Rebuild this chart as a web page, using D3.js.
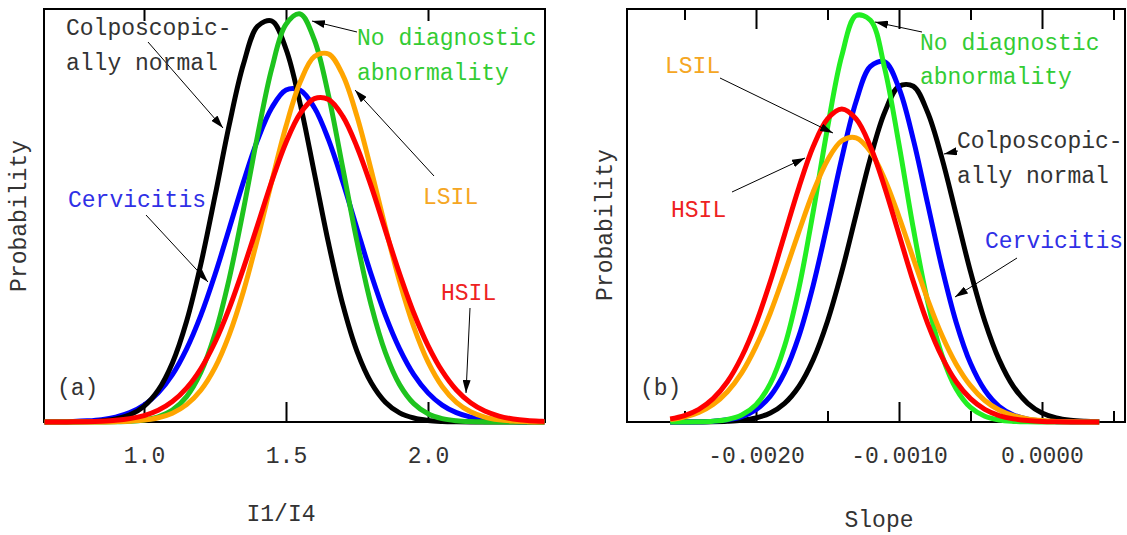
<!DOCTYPE html>
<html>
<head>
<meta charset="utf-8">
<script src="https://cdn.jsdelivr.net/npm/d3@7"></script>
<style>
  body { margin: 0; background: #fff; }
  svg text { font-family: "Liberation Mono", "Courier New", monospace; }
</style>
</head>
<body>
<script>
// ---- panel (a): I1/I4 ----
var ratioX = [0.65,0.70,0.75,0.80,0.85,0.90,0.95,1.00,1.05,1.10,1.15,1.20,1.25,1.30,1.35,1.40,1.45,1.50,1.55,1.60,
              1.65,1.70,1.75,1.80,1.85,1.90,1.95,2.00,2.05,2.10,2.15,2.20,2.25,2.30,2.35,2.40,2.41];
var ratioNormal = [0,0.0001,0.0003,0.001,0.0027,0.0072,0.0172,0.038,0.077,0.143,0.244,0.382,0.547,0.719,0.866,0.958,0.971,0.903,0.770,0.602,
                   0.432,0.284,0.171,0.095,0.048,0.022,0.0096,0.0037,0.0013,0.0004,0.0001,0,0,0,0,0,0];
var ratioCervicitis = [0.0002,0.0005,0.0012,0.0028,0.0058,0.0118,0.0226,0.041,0.0705,0.1146,0.177,0.258,0.357,0.468,0.581,0.683,0.761,0.804,0.803,0.761,
                       0.683,0.581,0.468,0.357,0.258,0.177,0.1146,0.0705,0.041,0.0226,0.0118,0.0058,0.0028,0.0012,0.0005,0.0002,0.0002];
var ratioNoAbn = [0,0,0,0,0.0002,0.0005,0.0017,0.0048,0.0123,0.0287,0.0614,0.120,0.2135,0.347,0.514,0.694,0.856,0.963,0.988,0.925,
                  0.790,0.615,0.437,0.283,0.168,0.0905,0.0445,0.020,0.0082,0.0031,0.0010,0.0003,0.0001,0,0,0,0];
var ratioLSIL = [0,0,0,0.0001,0.0003,0.0008,0.0019,0.0046,0.0103,0.0214,0.042,0.0769,0.1316,0.211,0.316,0.444,0.583,0.716,0.823,0.885,
                 0.891,0.840,0.740,0.610,0.471,0.340,0.230,0.1454,0.086,0.0476,0.0247,0.012,0.0054,0.0023,0.0009,0.0003,0.0003];
var ratioHSIL = [0.0001,0.0001,0.0004,0.0008,0.0019,0.004,0.0081,0.0155,0.0285,0.0496,0.0821,0.129,0.193,0.275,0.372,0.477,0.583,0.677,0.747,0.783,
                 0.781,0.740,0.666,0.571,0.464,0.359,0.264,0.185,0.123,0.0775,0.0465,0.0265,0.0144,0.0074,0.0036,0.0017,0.0014];
var ratioTicks = [1.0, 1.5, 2.0];

// ---- panel (b): Slope ----
var slopeX = [-0.0026,-0.0025,-0.0024,-0.0023,-0.0022,-0.0021,-0.0020,-0.0019,-0.0018,-0.0017,-0.0016,-0.0015,-0.0014,-0.0013,-0.0012,-0.0011,
              -0.0010,-0.0009,-0.0008,-0.0007,-0.0006,-0.0005,-0.0004,-0.0003,-0.0002,-0.0001,0,0.0001,0.0002,0.0003,0.0004];
var slopeNormal = [0,0.0001,0.0002,0.0005,0.0016,0.0041,0.0098,0.0219,0.0452,0.086,0.151,0.244,0.364,0.502,0.639,0.750,
                   0.813,0.813,0.750,0.639,0.502,0.364,0.244,0.151,0.086,0.0452,0.0219,0.0098,0.0041,0.0016,0.0005];
var slopeCervicitis = [0.0001,0.0002,0.0006,0.0019,0.0053,0.0132,0.030,0.0627,0.1194,0.208,0.331,0.481,0.639,0.776,0.861,0.872,
                       0.808,0.684,0.529,0.374,0.241,0.142,0.0768,0.0378,0.017,0.007,0.0026,0.0009,0.0003,0.0001,0];
var slopeNoAbn = [0,0.0001,0.0005,0.0019,0.006,0.0168,0.0418,0.0928,0.184,0.324,0.509,0.712,0.887,0.984,0.973,0.856,
                  0.672,0.469,0.292,0.162,0.080,0.0352,0.0138,0.0048,0.0015,0.0004,0.0001,0,0,0,0];
var slopeLSIL = [0.0058,0.0119,0.0232,0.0425,0.0734,0.119,0.183,0.264,0.360,0.461,0.557,0.634,0.681,0.688,0.655,0.588,
                 0.497,0.396,0.297,0.210,0.140,0.088,0.0521,0.029,0.0153,0.0075,0.0035,0.0015,0.0006,0.0003,0.0001];
var slopeHSIL = [0.0075,0.0157,0.0307,0.0565,0.0975,0.158,0.239,0.340,0.454,0.568,0.667,0.734,0.758,0.734,0.667,0.568,
                 0.454,0.340,0.239,0.158,0.0975,0.0565,0.0307,0.0157,0.0075,0.0034,0.0014,0.0006,0.0002,0.0001,0];
var slopeTicks = [-0.0020, -0.0010, 0.0000];
var slopeMinorTicks = [-0.0025, -0.0015, -0.0005, 0.0005];

var w = 1127, h = 535;
var top0 = 9, bottom0 = 422;

var svg = d3.select("body").append("svg")
            .attr("width", w)
            .attr("height", h);

var yScale = d3.scaleLinear().domain([0, 1]).range([bottom0, top0]);

// hyphen minus, like the original
var locale = d3.formatLocale({decimal: ".", thousands: ",", grouping: [3], currency: ["", ""], minus: "-"});

var defs = svg.append("defs");
defs.append("marker")
    .attr("id", "arrow")
    .attr("markerUnits", "userSpaceOnUse")
    .attr("markerWidth", 13)
    .attr("markerHeight", 8)
    .attr("refX", 13)
    .attr("refY", 4)
    .attr("orient", "auto")
  .append("path")
    .attr("d", "M0,0 L13,4 L0,8 Z")
    .attr("fill", "#000");

function drawPanel(p) {
    var g = svg.append("g");

    defs.append("clipPath").attr("id", "clip-" + p.id)
      .append("rect")
        .attr("x", p.left).attr("y", 0)
        .attr("width", p.right - p.left).attr("height", bottom0 + 8);

    //frame
    g.append("rect")
     .attr("x", p.left).attr("y", top0)
     .attr("width", p.right - p.left).attr("height", bottom0 - top0)
     .attr("fill", "none").attr("stroke", "#000").attr("stroke-width", 2);

    // bottom axis, ticks pointing in
    var xAxis = d3.axisBottom(p.x)
                  .tickValues(p.ticks)
                  .tickFormat(locale.format(p.fmt))
                  .tickSizeInner(-20).tickSizeOuter(0).tickPadding(25);
    var ax = g.append("g").attr("transform", `translate(0, ${bottom0})`).call(xAxis);
    ax.select(".domain").remove();

    var topAxis = d3.axisTop(p.x).tickValues(p.ticks).tickFormat("")
                    .tickSizeInner(-p.topTick).tickSizeOuter(0);
    var at = g.append("g").attr("transform", `translate(0, ${top0})`).call(topAxis);
    at.select(".domain").remove();

    if (p.minor) {
        [[bottom0, d3.axisBottom], [top0, d3.axisTop]].forEach(function(a) {
            var m = g.append("g").attr("transform", `translate(0, ${a[0]})`)
                     .call(a[1](p.x).tickValues(p.minor).tickFormat("").tickSizeInner(-11).tickSizeOuter(0));
            m.select(".domain").remove();
        });
    }
    g.selectAll(".tick line").attr("stroke", "#000").attr("stroke-width", 2);
    g.selectAll(".tick text").attr("font-size", "23px").attr("fill", "#333")
     .attr("font-family", "Liberation Mono, Courier New, monospace");

    // curves
    var line = d3.line()
                 .x(function(d) { return p.x(d[0]); })
                 .y(function(d) { return yScale(d[1]); })
                 .curve(d3.curveCatmullRom);
    var cg = g.append("g").attr("clip-path", `url(#clip-${p.id})`);
    p.series.forEach(function(s) {
        cg.append("path")
          .datum(p.xs.map(function(x, i) { return [x, s.values[i]]; }))
          .attr("d", line)
          .attr("fill", "none")
          .attr("stroke", s.color)
          .attr("stroke-width", 5)
          .attr("stroke-linejoin", "round");
    });

    // annotations
    p.notes.forEach(function(n) {
        g.append("line")
         .attr("x1", n.from[0]).attr("y1", n.from[1])
         .attr("x2", n.to[0]).attr("y2", n.to[1])
         .attr("stroke", "#000").attr("stroke-width", 1)
         .attr("marker-end", "url(#arrow)");
        var t = g.append("text")
                 .attr("x", n.x).attr("y", n.y)
                 .attr("font-size", "23px")
                 .attr("fill", n.color);
        n.text.forEach(function(s, i) {
            t.append("tspan").attr("x", n.x).attr("y", n.y + i * n.gap).text(s);
        });
    });

    g.append("text").attr("x", p.left + 13).attr("y", 395)
     .attr("font-size", "23px").attr("fill", "#333").text(p.tag);

    g.append("text")
     .attr("transform", `translate(${p.yLab[0]}, ${p.yLab[1]}) rotate(-90)`)
     .attr("text-anchor", "middle")
     .attr("font-size", "23px").attr("fill", "#333")
     .text("Probability");

    g.append("text")
     .attr("x", p.xLab[0]).attr("y", p.xLab[1])
     .attr("text-anchor", "middle")
     .attr("font-size", "23px").attr("fill", "#333")
     .text(p.xTitle);
}

drawPanel({
    id: "a", left: 44, right: 545, tag: "(a)", xTitle: "I1/I4",
    x: d3.scaleLinear().domain([1, 2]).range([144, 428]),
    ticks: ratioTicks, fmt: ".1f", topTick: 12,
    xs: ratioX,
    yLab: [26, 216], xLab: [281, 521],
    series: [
        {values: ratioCervicitis, color: "#0000ff"},
        {values: ratioNormal, color: "#000000"},
        {values: ratioNoAbn, color: "#1ec31e"},
        {values: ratioLSIL, color: "#ffa500"},
        {values: ratioHSIL, color: "#ff0000"}
    ],
    notes: [
        {text: ["Colposcopic-", "ally normal"], x: 66, y: 35, gap: 35, color: "#333", from: [148, 42], to: [223, 128]},
        {text: ["Cervicitis"], x: 68, y: 207, gap: 0, color: "#3030e6", from: [146, 215], to: [208, 282]},
        {text: ["No diagnostic", "abnormality"], x: 357, y: 45, gap: 35, color: "#33cc33", from: [357, 32], to: [312, 21]},
        {text: ["LSIL"], x: 423, y: 204, gap: 0, color: "#f5a623", from: [434, 176], to: [355, 90]},
        {text: ["HSIL"], x: 441, y: 300, gap: 0, color: "#ee2222", from: [470, 308], to: [466, 393]}
    ]
});

drawPanel({
    id: "b", left: 627, right: 1125, tag: "(b)", xTitle: "Slope",
    x: d3.scaleLinear().domain([-0.002, 0]).range([756, 1042]),
    ticks: slopeTicks, minor: slopeMinorTicks, fmt: ".4f", topTick: 20,
    xs: slopeX,
    yLab: [612, 225], xLab: [879, 527],
    series: [
        {values: slopeNormal, color: "#000000"},
        {values: slopeCervicitis, color: "#0000ff"},
        {values: slopeNoAbn, color: "#22ee22"},
        {values: slopeLSIL, color: "#ffa500"},
        {values: slopeHSIL, color: "#ff0000"}
    ],
    notes: [
        {text: ["LSIL"], x: 665, y: 73, gap: 0, color: "#f5a623", from: [720, 78], to: [833, 133]},
        {text: ["HSIL"], x: 671, y: 217, gap: 0, color: "#ee2222", from: [732, 192], to: [805, 158]},
        {text: ["No diagnostic", "abnormality"], x: 920, y: 50, gap: 34, color: "#33cc33", from: [922, 32], to: [875, 22]},
        {text: ["Colposcopic-", "ally normal"], x: 957, y: 148, gap: 35, color: "#333", from: [958, 151], to: [944, 154]},
        {text: ["Cervicitis"], x: 985, y: 248, gap: 0, color: "#3030e6", from: [1017, 258], to: [955, 297]}
    ]
});
</script>
</body>
</html>
